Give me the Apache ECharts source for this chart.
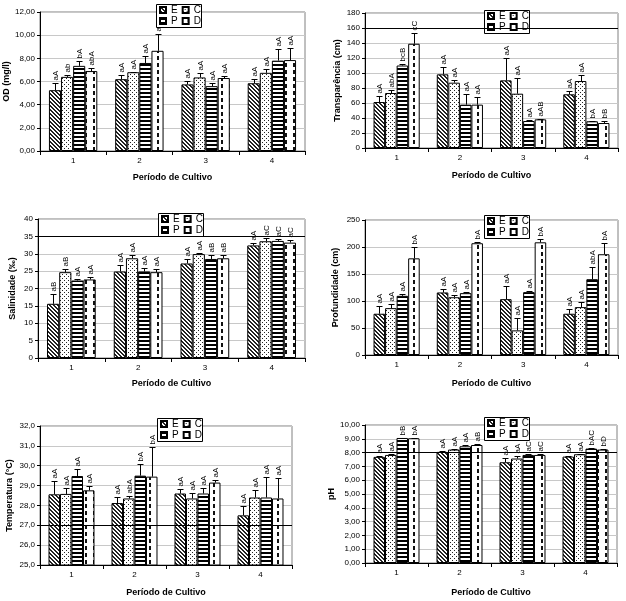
<!DOCTYPE html>
<html><head><meta charset="utf-8">
<script src="https://cdn.jsdelivr.net/npm/echarts@6/dist/echarts.min.js"></script>
<style>html,body{margin:0;padding:0;background:#fff}#c{width:626px;height:601px}</style>
</head><body><div id="c"></div>
<script>
const categories = ['1','2','3','4'];
const seriesNames = ['E','C','P','D'];
const xTitle = 'Período de Cultivo';

// OD (mg/l)
const odMean = [[5.25,6.2,5.75,5.85],[6.4,6.8,6.35,6.75],[7.35,7.6,5.6,7.8],[6.9,8.65,6.3,7.85]];
const odSd   = [[0.65,0.35,0.3,0.4],[0.15,0.05,0.35,0.37],[0.42,0.57,0.27,1.03],[0.24,1.45,0.17,1.03]];
const odLab  = [["aA","aA","aA","aA"],["ab","aA","aA","aA"],["bA","aA","aA","aA"],["abA","aA","aA","aA"]];

// Transparência (cm)
const trMean = [[61.3,98.2,90.2,71.6],[73.3,87.1,72.4,89.3],[110,57.8,36,35.6],[139,57.8,38.2,33.3]];
const trSd   = [[8,9.4,29.8,4.4],[4.5,3.5,20.5,8.5],[2,14.2,1.8,1],[14.8,10.6,0.8,3.1]];
const trLab  = [["aA","aA","aA","aA"],["abA","aA","aA","aA"],["bcB","aA","aA","bA"],["cC","aA","aAB","bB"]];

// Salinidade (‰)
const saMean = [[15.6,24.9,27.2,32.4],[24.7,28.7,29.9,33.6],[22.3,24.9,28.5,33.7],[22.6,24.7,28.7,33.2]];
const saSd   = [[2.7,1.9,1.4,0.8],[0.8,0.9,0.2,1.0],[0.3,1.1,1.1,0.5],[0.7,0.8,0.9,0.8]];
const saLab  = [["aB","aA","aA","aA"],["aB","aA","aA","aC"],["aA","aA","aB","aC"],["aA","aA","aB","aC"]];

// Profundidade (cm)
const prMean = [[76.4,115.8,103.4,76.4],[86.8,107,45.6,88.7],[109.6,114.5,116.4,140.4],[179,207,208.7,186.6]];
const prSd   = [[14.6,6.2,23.6,8],[8,4.5,22.7,9.3],[3.1,1.9,1.2,23.4],[21.7,1.7,6.8,21.4]];
const prLab  = [["aA","aA","aA","aA"],["aA","aA","aA","aA"],["aA","aA","aA","abA"],["bA","bA","bA","bA"]];

// Temperatura (°C)
const teMean = [[28.56,28.12,28.6,27.5],[28.58,28.35,28.35,28.4],[29.48,29.5,28.6,28.4],[28.76,29.45,29.15,28.35]];
const teSd   = [[0.69,0.32,0.25,0.45],[0.28,0.1,0.3,0.4],[0.34,0.6,0.3,1.05],[0.24,1.5,0.15,1.05]];
const teLab  = [["aA","aA","aA","aA"],["aA","abA","aA","aA"],["aA","bA","aA","aA"],["aA","bA","aA","aA"]];

// pH
const phMean = [[7.69,8.05,7.3,7.71],[7.83,8.22,7.57,7.88],[9.06,8.46,7.83,8.29],[9.04,8.55,7.83,8.22]];
const phSd   = [[0.04,0.05,0.29,0.05],[0.1,0.05,0.19,0.05],[0.03,0.09,0.07,0.03],[0.03,0.05,0.08,0.03]];
const phLab  = [["aA","aA","aA","aA"],["aA","aA","aA","aA"],["bB","aA","aC","bAC"],["bA","aB","aC","bD"]];

const FONT = '"Liberation Sans", Arial, sans-serif';
const comma = d => v => v.toFixed(d).replace('.', ',');

const panels = [
  {name:'OD (mg/l)', mean:odMean, sd:odSd, lab:odLab, min:0, max:12, interval:2, fmt:comma(2), ref:null,
   grid:{left:40, top:12, width:265, height:139}, yGap:27, xGap:22, box:[156,4]},
  {name:'Transparência (cm)', mean:trMean, sd:trSd, lab:trLab, min:0, max:180, interval:20, fmt:comma(0), ref:160,
   grid:{left:365, top:13, width:253, height:135}, yGap:23, xGap:23, box:[484,10]},
  {name:'Salinidade (‰)', mean:saMean, sd:saSd, lab:saLab, min:0, max:40, interval:5, fmt:comma(0), ref:35,
   grid:{left:38, top:219, width:267, height:139}, yGap:21, xGap:21, box:[158,213]},
  {name:'Profundidade (cm)', mean:prMean, sd:prSd, lab:prLab, min:0, max:250, interval:50, fmt:comma(0), ref:null,
   grid:{left:365, top:220, width:253, height:135}, yGap:25, xGap:24, box:[484,215]},
  {name:'Temperatura (°C)', mean:teMean, sd:teSd, lab:teLab, min:25, max:32, interval:1, fmt:comma(1), ref:27,
   grid:{left:40, top:426, width:252, height:139}, yGap:26, xGap:23, box:[157,418]},
  {name:'pH', mean:phMean, sd:phSd, lab:phLab, min:0, max:10, interval:1, fmt:comma(2), ref:8,
   grid:{left:365, top:425, width:252, height:138}, yGap:29, xGap:25, box:[484,417]}
];

function tile(w, h, draw) {
  const c = document.createElement('canvas'); c.width = w; c.height = h;
  const g = c.getContext('2d'); g.fillStyle = '#fff'; g.fillRect(0,0,w,h); draw(g); return c;
}
const patE = tile(4,4,g=>{g.fillStyle='#222';for(let i=0;i<4;i++){g.fillRect(i,i,1,1);g.fillRect((i+1)%4,i,1,1);}});
const patC = tile(4,4,g=>{g.fillStyle='#222';g.fillRect(0,0,1,1);g.fillRect(2,2,1,1);});
const patP = tile(2,4,g=>{g.fillStyle='#000';g.fillRect(0,0,2,2);});
const patD = tile(8,7,g=>{g.fillStyle='#111';g.fillRect(5,0,2,4);});
const pats = [patE, patC, patP, patD].map(c => ({image:c, repeat:'repeat'}));

const CAT_GAP = 0.27;

function makeRender(k, sd, lab) {
  return function(params, api) {
    const i = params.dataIndex;
    const cat = api.value(0), m = api.value(1);
    const band = api.size([1,0])[0];
    const bw = band*(1-CAT_GAP)/4;
    const c = api.coord([cat, m]);
    const x = Math.round(c[0] + (k-1.5)*bw) + 0.5;
    const top = Math.round(api.coord([cat, m + sd[k][i]])[1]) + 0.5;
    const cap = Math.max(2, Math.round(bw*0.25));
    return {type:'group', children:[
      {type:'line', shape:{x1:x,y1:c[1],x2:x,y2:top}, style:{stroke:'#000',lineWidth:1}},
      {type:'line', shape:{x1:x-cap,y1:top,x2:x+cap,y2:top}, style:{stroke:'#000',lineWidth:1}},
      {type:'text', x:x, y:top-3, rotation:Math.PI/2,
       style:{text:lab[k][i], font:'8px ' + FONT, fill:'#000', align:'left', verticalAlign:'middle'}}
    ]};
  };
}

const grid = [], xAxis = [], yAxis = [], series = [], legend = [], graphic = [];
panels.forEach((p, pi) => {
  grid.push(Object.assign({show:true, borderColor:'#808080', borderWidth:1, containLabel:false}, p.grid));
  xAxis.push({type:'category', gridIndex:pi, data:categories,
    name:xTitle, nameLocation:'middle', nameGap:p.xGap,
    nameTextStyle:{fontFamily:FONT, fontSize:9, fontWeight:'bold', color:'#000'},
    axisLine:{lineStyle:{color:'#000', width:1}},
    axisTick:{show:true, length:4, lineStyle:{color:'#000'}},
    axisLabel:{fontFamily:FONT, fontSize:8, color:'#000', margin:6},
    splitLine:{show:false}});
  yAxis.push({type:'value', gridIndex:pi, min:p.min, max:p.max, interval:p.interval,
    name:p.name, nameLocation:'middle', nameGap:p.yGap,
    nameTextStyle:{fontFamily:FONT, fontSize:9, fontWeight:'bold', color:'#000'},
    axisLine:{show:true, lineStyle:{color:'#000', width:1}},
    axisTick:{show:true, length:3, lineStyle:{color:'#000'}},
    axisLabel:{fontFamily:FONT, fontSize:8, color:'#000', margin:5, formatter:p.fmt},
    splitLine:{show:true, lineStyle:{color:'#c8c8c8', width:1}}});
  seriesNames.forEach((sn, k) => {
    const s = {type:'bar', name:sn, xAxisIndex:pi, yAxisIndex:pi, data:p.mean[k],
      barGap:'0%', barCategoryGap:(CAT_GAP*100)+'%',
      itemStyle:{color:pats[k], borderColor:'#000', borderWidth:1},
      emphasis:{disabled:true}, z:2};
    if (k === 0 && p.ref !== null) {
      s.markLine = {silent:true, symbol:'none', label:{show:false}, animation:false,
        lineStyle:{color:'#000', width:1, type:'solid'}, data:[{yAxis:p.ref}]};
    }
    series.push(s);
  });
  seriesNames.forEach((sn, k) => {
    series.push({type:'custom', name:sn+'_err', xAxisIndex:pi, yAxisIndex:pi,
      data:p.mean[k].map((v,i)=>[i, v]), encode:{x:0, y:1},
      renderItem:makeRender(k, p.sd, p.lab), z:3, silent:true});
  });
  const [bx, by] = p.box;
  graphic.push({type:'rect', shape:{x:bx+0.5, y:by+0.5, width:45, height:23},
    style:{fill:'#fff', stroke:'#000', lineWidth:1}, z:5});
  [['E','C'],['P','D']].forEach((row, r) => {
    legend.push({data:row, left:bx+3, top:by+1+r*11, orient:'horizontal',
      icon:'rect', itemWidth:6, itemHeight:6, itemGap:4, padding:0,
      selectedMode:false, z:6,
      textStyle:{fontFamily:FONT, fontSize:10, color:'#000'}});
  });
});

const chart = echarts.init(document.getElementById('c'), null, {renderer:'canvas'});
chart.setOption({animation:false, backgroundColor:'#fff', grid, xAxis, yAxis, series, legend, graphic});
</script></body></html>
